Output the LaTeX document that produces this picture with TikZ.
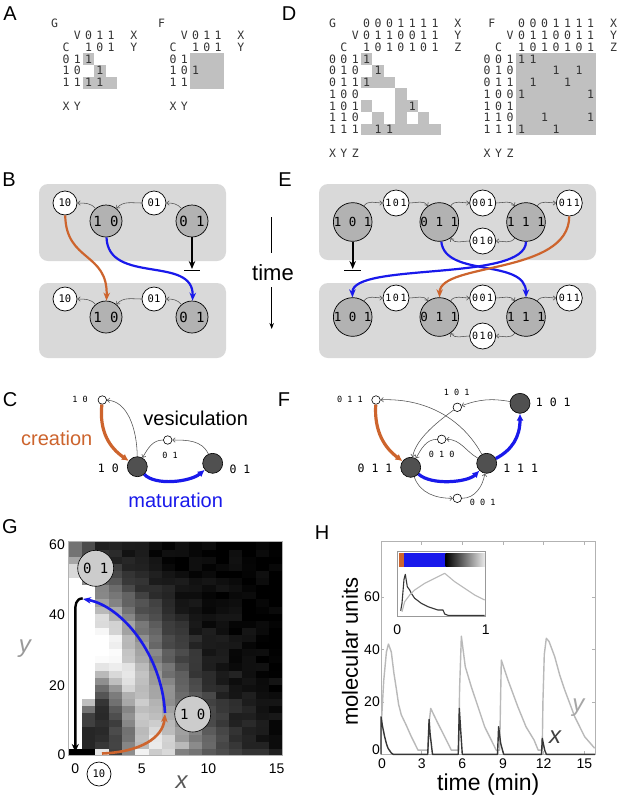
\documentclass[tikz,border=0pt]{standalone}
\usepackage{fontspec}
\setmainfont{Liberation Sans}
\newfontfamily\monof{DejaVu Sans Mono}
\usetikzlibrary{arrows.meta}
\definecolor{orng}{RGB}{205,100,45}
\definecolor{blu}{RGB}{25,25,235}
\definecolor{boxg}{RGB}{217,217,217}
\definecolor{cellg}{RGB}{192,192,192}
\definecolor{nodeg}{RGB}{178,178,178}
\definecolor{darkn}{RGB}{80,80,80}
\definecolor{thinc}{RGB}{80,80,80}
\definecolor{ycur}{RGB}{185,185,185}
\definecolor{xcur}{RGB}{55,55,55}
\newcommand\mrow[4]{\foreach \qq [count=\qk from 0] in {#4} {\node[mt] (#1-\qk) at ({#2+\qk},#3) {\qq};}}
\newcommand\cel[2]{\fill[cellg] ({#1-0.5},{#2-0.5}) rectangle ({#1+0.5},{#2+0.5});}
\newcommand\one[3]{\node[mt] (#1) at (#2,#3) {1};}
\begin{document}
\begin{tikzpicture}[x=1pt,y=-1pt,
  lab/.style={inner sep=0pt, font=\fontsize{20}{20}\selectfont},
  mt/.style={inner sep=0pt, text=black!80, font=\monof\fontsize{11.5}{12}\selectfont},
  bigB/.style={circle, draw=black, line width=0.7pt, fill=nodeg, minimum size=32pt, inner sep=0pt, font=\monof\fontsize{14}{14}\selectfont},
  smallB/.style={circle, draw=black, line width=0.7pt, fill=white, minimum size=24pt, inner sep=0pt, font=\monof\fontsize{10.5}{11}\selectfont},
  bigE/.style={bigB, minimum size=38pt, font=\monof\fontsize{12.5}{13}\selectfont},
  smallE/.style={smallB, minimum size=26pt, font=\monof\fontsize{10}{10}\selectfont},
  tarr/.style={draw=thinc, line width=0.55pt, -{Straight Barb[length=2.5pt,width=4.5pt]}},
  orarr/.style={draw=orng, line width=2.2pt, -{Stealth[length=8pt,width=6.5pt,inset=2.5pt]}},
  blarr/.style={orarr, draw=blu},
  tbarr/.style={draw=black, line width=2pt, -{Stealth[length=8pt,width=6.5pt]}},
  barl/.style={draw=black, line width=1.8pt},
  dk/.style={circle, draw=black, line width=0.6pt, fill=darkn, minimum size=20pt, inner sep=0pt},
  sm/.style={circle, draw=black, line width=0.6pt, fill=white, minimum size=8.5pt, inner sep=0pt},
  cl/.style={inner sep=0pt, font=\monof\fontsize{11.5}{12}\selectfont},
  csl/.style={inner sep=0pt, font=\monof\fontsize{8.5}{9}\selectfont},
  bigt/.style={inner sep=0pt, font=\fontsize{20}{22}\selectfont},
  orthick/.style={draw=orng, line width=3.2pt, -{Latex[length=7pt,width=7pt]}},
  blthick/.style={orthick, draw=blu},
  tick/.style={inner sep=0pt, font=\fontsize{14}{14}\selectfont},
  gcirc/.style={circle, draw=black, line width=0.6pt, fill=black!20, minimum size=36pt, inner sep=0pt, font=\monof\fontsize{14}{14}\selectfont},
  frm/.style={draw=black!30, line width=0.6pt}
]
\useasboundingbox (0,0) rectangle (617,804);
\fill[white] (0,0) rectangle (617,804);

% ---------- panel labels
\node[lab] (LA) at (10,14) {A};
\node[lab] (LD) at (289,14) {D};
\node[lab] (LB) at (9,180) {B};
\node[lab] (LE) at (285,180) {E};
\node[lab] (LC) at (10,400) {C};
\node[lab] (LF) at (284,400) {F};
\node[lab] (LG) at (10,527) {G};
\node[lab] (LH) at (322,533) {H};

% ---------- A, G matrix
\begin{scope}[shift={(66,59)}, x=11.3pt, y=-11.8pt]
\cel{2}{0}\cel{3}{1}\cel{2}{2}\cel{3}{2}\cel{4}{2}
\node[mt] (agT) at (-1,-3) {G};
\mrow{agh1}{1}{-2}{V,0,1,1}
\node[mt] (agX) at (6,-2) {X};
\node[mt] (agC) at (0,-1) {C};
\mrow{agh2}{2}{-1}{1,0,1}
\node[mt] (agY) at (6,-1) {Y};
\mrow{agr0}{0}{0}{0,1}
\mrow{agr1}{0}{1}{1,0}
\mrow{agr2}{0}{2}{1,1}
\one{ag1}{2}{0}\one{ag2}{3}{1}\one{ag3}{2}{2}\one{ag4}{3}{2}
\mrow{agb}{0}{4}{X,Y}
\end{scope}
% ---------- A, F matrix
\begin{scope}[shift={(173,59)}, x=11.3pt, y=-11.8pt]
\fill[cellg] (1.5,-0.5) rectangle (4.5,2.5);
\node[mt] (afT) at (-1,-3) {F};
\mrow{afh1}{1}{-2}{V,0,1,1}
\node[mt] (afX) at (6,-2) {X};
\node[mt] (afC) at (0,-1) {C};
\mrow{afh2}{2}{-1}{1,0,1}
\node[mt] (afY) at (6,-1) {Y};
\mrow{afr0}{0}{0}{0,1}
\mrow{afr1}{0}{1}{1,0}
\mrow{afr2}{0}{2}{1,1}
\one{af1}{2}{1}
\mrow{afb}{0}{4}{X,Y}
\end{scope}
% ---------- D, G matrix
\begin{scope}[shift={(332.5,59)}, x=11.4pt, y=-11.75pt]
\cel{3}{0}\cel{4}{1}\cel{3}{2}\cel{4}{2}\cel{5}{2}\cel{6}{3}
\cel{3}{4}\cel{6}{4}\cel{7}{4}\cel{4}{5}\cel{6}{5}\cel{8}{5}
\fill[cellg] (2.5,5.5) rectangle (9.5,6.5);
\node[mt] (dgT) at (0,-3) {G};
\mrow{dgh1}{3}{-3}{0,0,0,1,1,1,1}
\node[mt] (dgX) at (11,-3) {X};
\node[mt] (dgV) at (2,-2) {V};
\mrow{dgh2}{3}{-2}{0,1,1,0,0,1,1}
\node[mt] (dgY) at (11,-2) {Y};
\node[mt] (dgC) at (1,-1) {C};
\mrow{dgh3}{3}{-1}{1,0,1,0,1,0,1}
\node[mt] (dgZ) at (11,-1) {Z};
\mrow{dgr0}{0}{0}{0,0,1}
\mrow{dgr1}{0}{1}{0,1,0}
\mrow{dgr2}{0}{2}{0,1,1}
\mrow{dgr3}{0}{3}{1,0,0}
\mrow{dgr4}{0}{4}{1,0,1}
\mrow{dgr5}{0}{5}{1,1,0}
\mrow{dgr6}{0}{6}{1,1,1}
\one{dg1}{3}{0}\one{dg2}{4}{1}\one{dg3}{3}{2}\one{dg4}{7}{4}\one{dg5}{4}{6}\one{dg6}{5}{6}
\mrow{dgb}{0}{8}{X,Y,Z}
\end{scope}
% ---------- D, F matrix
\begin{scope}[shift={(487.2,59)}, x=11.5pt, y=-11.75pt]
\fill[cellg] (2.5,-0.5) rectangle (9.5,6.5);
\node[mt] (dfT) at (0.4,-3) {F};
\mrow{dfh1}{3}{-3}{0,0,0,1,1,1,1}
\node[mt] (dfX) at (11,-3) {X};
\node[mt] (dfV) at (2,-2) {V};
\mrow{dfh2}{3}{-2}{0,1,1,0,0,1,1}
\node[mt] (dfY) at (11,-2) {Y};
\node[mt] (dfC) at (1,-1) {C};
\mrow{dfh3}{3}{-1}{1,0,1,0,1,0,1}
\node[mt] (dfZ) at (11,-1) {Z};
\mrow{dfr0}{0}{0}{0,0,1}
\mrow{dfr1}{0}{1}{0,1,0}
\mrow{dfr2}{0}{2}{0,1,1}
\mrow{dfr3}{0}{3}{1,0,0}
\mrow{dfr4}{0}{4}{1,0,1}
\mrow{dfr5}{0}{5}{1,1,0}
\mrow{dfr6}{0}{6}{1,1,1}
\one{df1}{3}{0}\one{df2}{4}{0}\one{df3}{6}{1}\one{df4}{8}{1}
\one{df5}{4}{2}\one{df6}{7}{2}\one{df7}{3}{3}\one{df8}{9}{3}
\one{df9}{5}{5}\one{df10}{9}{5}\one{df11}{3}{6}\one{df12}{6}{6}
\mrow{dfb}{0}{8}{X,Y,Z}
\end{scope}

% ---------- B
\fill[boxg, rounded corners=9pt] (39,184) rectangle (226,261);
\fill[boxg, rounded corners=9pt] (39,283) rectangle (226,358);
\node[smallB] (bs10a) at (65,203) {10};
\node[bigB] (bb10a) at (106,221) {1 0};
\node[smallB] (bs01a) at (154,203) {01};
\node[bigB] (bb01a) at (192,221) {0 1};
\node[smallB] (bs10b) at (65,299) {10};
\node[bigB] (bb10b) at (106,317) {1 0};
\node[smallB] (bs01b) at (154,299) {01};
\node[bigB] (bb01b) at (192,317) {0 1};
\foreach \r in {a,b}{
  \draw[tarr] (bb01\r) to[out=130,in=0] (bs01\r);
  \draw[tarr] (bs01\r) to[out=180,in=50] (bb10\r);
  \draw[tarr] (bb10\r) to[out=130,in=0] (bs10\r);
}
\coordinate (btb) at (192,269);
\coordinate (btl) at (184,270.5);
\coordinate (btr) at (200,270.5);
\draw[tbarr] (bb01a) -- (btb);
\draw[barl] (btl) -- (btr);
\draw[orarr] (bs10a) .. controls (66,262) and (108,252) .. (bb10b);
\draw[blarr] (bb10a) .. controls (108,285) and (194,255) .. (bb01b);

% ---------- E
\fill[boxg, rounded corners=9pt] (319,184) rectangle (596,260);
\fill[boxg, rounded corners=9pt] (319,283) rectangle (596,358);
\foreach \r/\dy in {a/0,b/95}{
  \node[bigE] (eb101\r) at (352.7,222+\dy) {1 0 1};
  \node[smallE] (es101\r) at (396,203+\dy) {1\kern1.5pt0\kern1.5pt1};
  \node[bigE] (eb011\r) at (439.3,222+\dy) {0 1 1};
  \node[smallE] (es001\r) at (482.7,203+\dy) {0\kern1.5pt0\kern1.5pt1};
  \node[bigE] (eb111\r) at (526,222+\dy) {1 1 1};
  \node[smallE] (es011\r) at (569.3,203+\dy) {0\kern1.5pt1\kern1.5pt1};
  \node[smallE] (es010\r) at (482.7,241+\dy) {0\kern1.5pt1\kern1.5pt0};
  \draw[tarr] (eb101\r) to[out=55,in=180] (es101\r);
  \draw[tarr] (es101\r) to[out=0,in=125] (eb011\r);
  \draw[tarr] (eb011\r) to[out=55,in=180] (es001\r);
  \draw[tarr] (es001\r) to[out=0,in=125] (eb111\r);
  \draw[tarr] (eb111\r) to[out=55,in=180] (es011\r);
  \draw[tarr] (eb111\r) to[out=-125,in=0] (es010\r);
  \draw[tarr] (es010\r) to[out=180,in=-55] (eb011\r);
}
\coordinate (etb) at (352.7,269);
\coordinate (etl) at (344,270.5);
\coordinate (etr) at (361,270.5);
\draw[tbarr] (eb101a) -- (etb);
\draw[barl] (etl) -- (etr);
\draw[blarr] (eb011a) .. controls (445,278) and (526,258) .. (eb111b);
\draw[blarr] (eb111a) .. controls (526,282) and (352,262) .. (eb101b);
\draw[orarr] (es011a) .. controls (569,275) and (440,262) .. (eb011b);
% time
\node[inner sep=0pt, font=\fontsize{22}{22}\selectfont] (time) at (273,273) {time};
\coordinate (tl1) at (271.7,217);
\coordinate (tl2) at (271.7,253);
\coordinate (ta1) at (271.7,287);
\coordinate (ta2) at (271.7,329);
\draw[line width=0.8pt] (tl1) -- (tl2);
\draw[line width=0.8pt, -{Stealth[length=6pt,width=4.5pt]}] (ta1) -- (ta2);

% ---------- C
\node[sm] (cs10) at (102.3,400) {};
\node[csl] (cs10l) at (80,399) {1 0};
\node[sm] (cs01) at (167.7,440) {};
\node[csl] (cs01l) at (170,455) {0 1};
\node[dk] (cb10) at (137.3,466.7) {};
\node[cl] (cb10l) at (108.3,468) {1 0};
\node[dk] (cb01) at (212.7,463.3) {};
\node[cl] (cb01l) at (240,469) {0 1};
\node[bigt] (vesic) at (195.7,418.3) {vesiculation};
\node[bigt, text=orng] (creat) at (56.7,438.3) {creation};
\node[bigt, text=blu] (matur) at (175.7,500) {maturation};
\draw[tarr] (cb10) .. controls (137,428) and (127,401) .. (cs10);
\draw[tarr] (cb01) to[out=115,in=0] (cs01);
\draw[tarr] (cs01) to[out=180,in=60] (cb10);
\draw[orthick] (cs10) .. controls (99,432) and (110,448) .. (cb10);
\draw[blthick] (cb10) .. controls (155,486) and (190,482) .. (cb01);

% ---------- F
\node[sm] (fs011) at (376,400) {};
\node[csl] (fs011l) at (350,399) {0 1 1};
\node[sm] (fs101) at (457.3,407.3) {};
\node[csl] (fs101l) at (456.7,392.3) {1 0 1};
\node[dk] (fb101) at (520,403.3) {};
\node[cl] (fb101l) at (553.3,402.7) {1 0 1};
\node[sm] (fs010) at (441.7,439.3) {};
\node[csl] (fs010l) at (441.7,454) {0 1 0};
\node[dk] (fb011) at (410.7,467.3) {};
\node[cl] (fb011l) at (375,468.3) {0 1 1};
\node[dk] (fb111) at (486.7,463.3) {};
\node[cl] (fb111l) at (520.7,468.3) {1 1 1};
\node[sm] (fs001) at (457.3,498.3) {};
\node[csl] (fs001l) at (482.7,502.7) {0 0 1};
\draw[tarr] (fb101) to[out=170,in=20] (fs101);
\draw[tarr] (fs101) .. controls (440,420) and (416,438) .. (fb011);
\draw[tarr] (fb111) .. controls (462,418) and (425,398) .. (fs011);
\draw[tarr] (fb111) to[out=150,in=0] (fs010);
\draw[tarr] (fs010) to[out=180,in=60] (fb011);
\draw[tarr] (fb011) to[out=-70,in=180] (fs001);
\draw[tarr] (fs001) to[out=0,in=-100] (fb111);
\draw[orthick] (fs011) .. controls (374,432) and (385,448) .. (fb011);
\draw[blthick] (fb011) .. controls (432,486) and (468,482) .. (fb111);
\draw[blthick] (fb111) .. controls (512,450) and (520,437) .. (fb101);

% ---------- G heat map
\begin{scope}[shift={(75.3,755)}, x=13.375pt, y=3.555pt]
\pgfmathsetseed{11}
\foreach \i in {0,...,15}{
 \foreach \j in {0,...,29}{
  \pgfmathsetmacro\yc{2*\j+1}
  \pgfmathsetmacro\rr{sqrt((\i/9)*(\i/9)+(\yc/44)*(\yc/44))}
  \pgfmathsetmacro\dd{\rr-0.7}
  \pgfmathsetmacro\rid{\dd<0 ? exp(-min(9,(\dd/0.2)*(\dd/0.2))) : exp(-min(9,(\dd/0.45)*(\dd/0.45)))}
  \pgfmathsetmacro\amp{min(1,exp(-(\i-2.5)/5))}
  \pgfmathsetmacro\bgv{0.5*exp(-\yc/20)*exp(-((\i-7)/6)*((\i-7)/6))}
  \pgfmathsetmacro\v{\rid*\amp+\bgv+0.1*(rnd-0.5)}
  \ifnum\i=0 \pgfmathsetmacro\v{\yc<50 ? 1 : (\yc<54 ? 0.85 : (\yc<57 ? 0.65 : 0.45))}\fi
  \ifnum\i=1 \pgfmathsetmacro\v{\yc<8 ? 0.15 : (\yc<12 ? 0.25 : (\yc<15 ? 0.45 : (\yc<17 ? 0.75 : (\yc<48 ? 1 : (\yc<52 ? 0.55 : 0.3)))))}\fi
  \ifnum\j=0 \pgfmathsetmacro\v{{0,0,0.9,0.25,0.55,0.95,0.8,0.85,0.5,0.45,0.35,0.3,0.25,0.2,0.2,0.12}[\i]}\fi
  \pgfmathsetmacro\pc{max(0,min(100,100*\v))}
  \filldraw[white!\pc!black, line width=0.3pt] (\i-0.5,2*\j) rectangle (\i+0.5,2*\j+2);
 }
}
\draw[frm] (-0.5,0) rectangle (15.5,60);
\end{scope}
\node[tick, anchor=east] (g60) at (65,545) {60};
\node[tick, anchor=east] (g40) at (65,615) {40};
\node[tick, anchor=east] (g20) at (65,685.5) {20};
\node[tick, anchor=east] (g0) at (65.5,755) {0};
\node[tick] (gx0) at (75.3,768.3) {0};
\node[tick] (gx5) at (141.7,768.3) {5};
\node[tick] (gx10) at (208.3,768.3) {10};
\node[tick] (gx15) at (276.7,768.3) {15};
\node[inner sep=0pt, text=black!40, font=\itshape\fontsize{24}{24}\selectfont] (gylab) at (25,649) {y};
\node[inner sep=0pt, text=black!65, font=\itshape\fontsize{24}{24}\selectfont] (gxlab) at (181.7,782) {x};
\coordinate (gk1) at (82.7,598.3);
\coordinate (gk2) at (75.3,752);
\draw[draw=black, line width=2.4pt, -{Stealth[length=8pt,width=7pt]}] (gk1) .. controls (75.3,599) and (75.3,605) .. (75.3,612) -- (gk2);
\coordinate (gb1) at (165,713);
\coordinate (gb2) at (83,599);
\draw[blarr, line width=2.6pt] (gb1) .. controls (162,655) and (122,606) .. (gb2);
\coordinate (go1) at (102,753.5);
\coordinate (go2) at (165,714);
\draw[orarr, line width=2.6pt] (go1) .. controls (140,752) and (163,738) .. (go2);
\node[gcirc] (g01) at (95.7,568.3) {0 1};
\node[gcirc] (g10) at (192.7,714) {1 0};
\node[smallB] (g10s) at (99,774) {10};

% ---------- H
\begin{scope}[shift={(381,754.3)}, x=13.55pt, y=2.625pt]
\draw[frm] (0,0) rectangle (15.79,81);
\foreach \t in {0,3,...,15}{
  \draw[frm] (\t,0) -- (\t,1.3);
  \draw[frm] (\t,81) -- (\t,79.7);
}
\foreach \u in {20,40,60}{
  \draw[frm] (0,\u) -- (0.25,\u);
  \draw[frm] (15.79,\u) -- (15.54,\u);
}
\draw[draw=ycur, line width=1.4pt, line join=round] plot coordinates {
 (0,2) (0.05,14) (0.2,28) (0.4,39) (0.55,42) (0.76,39) (0.95,31) (1.13,25) (1.3,19) (1.5,15)
 (1.87,11) (2.24,6.7) (2.5,4) (2.73,1.6) (3.47,1.6) (3.55,12) (3.67,17.5) (3.9,15) (4.2,11.8)
 (4.7,6.7) (5.19,1.6) (5.73,1.6) (5.8,25) (5.93,45) (6.22,33.4) (6.66,25.8) (7.16,18.1)
 (7.65,10.5) (8.14,5.4) (8.5,1.6) (8.76,1.6) (8.82,20) (8.88,35.9) (9.37,28.3) (10.1,18.1)
 (10.7,10.5) (11.3,5.4) (11.6,1.6) (11.9,1.6) (11.95,20) (12.05,38) (12.2,44.2) (12.4,43)
 (12.82,37.2) (13.2,30) (13.56,24.5) (14.3,14.3) (15.03,6.7) (15.77,2.3)};
\draw[draw=xcur, line width=1.4pt, line join=round] plot coordinates {
 (0,0) (0,14.3) (0.1,11) (0.27,6.7) (0.4,4) (0.52,2.3) (0.76,0.5) (0.9,0) (3.45,0) (3.55,13.3)
 (3.62,8) (3.8,0) (5.7,0) (5.78,17.5) (5.87,10) (6.0,0) (8.6,0) (8.68,10.5) (8.83,4.2) (9.05,0)
 (11.85,0) (11.9,6.1) (12.08,1.6) (12.2,0) (15.79,0)};
\end{scope}
\node[tick] (hx0) at (382,763.3) {0};
\node[tick] (hx3) at (421.7,763.3) {3};
\node[tick] (hx6) at (462.3,763.3) {6};
\node[tick] (hx9) at (503,763.3) {9};
\node[tick] (hx12) at (543.6,763.3) {12};
\node[tick] (hx15) at (584.3,763.3) {15};
\node[tick, anchor=east] (hy0) at (380,750) {0};
\node[tick, anchor=east] (hy20) at (380,701.7) {20};
\node[tick, anchor=east] (hy40) at (380,650) {40};
\node[tick, anchor=east] (hy60) at (380,596.7) {60};
\node[inner sep=0pt, rotate=90, font=\fontsize{22}{22}\selectfont] (hylab) at (350,651.7) {molecular units};
\node[inner sep=0pt, font=\fontsize{23}{23}\selectfont] (hxlab) at (488.3,785) {time (min)};
\node[inner sep=0pt, text=black!35, font=\itshape\fontsize{24}{24}\selectfont] (hyv) at (578.3,708) {y};
\node[inner sep=0pt, text=black!75, font=\itshape\fontsize{24}{24}\selectfont] (hxv) at (555,737) {x};
% inset
\fill[white] (397.3,551.7) rectangle (485.7,616.7);
\fill[orng] (399,553.3) rectangle (404,566.7);
\fill[blu] (404,553.3) rectangle (445.7,566.7);
\shade[left color=black, right color=white!92!black] (445.7,553.3) rectangle (485,566.7);
\draw[draw=xcur, line width=1.1pt, line join=round] plot coordinates {
 (400.7,610.7) (402,603.3) (404,579.3) (405.3,574.3) (407.3,586.7) (409.7,590) (411.3,593.3)
 (414.7,598.3) (421.3,603.3) (428,606.7) (438,610) (443,610) (444.7,614) (448,615.3) (484.7,615.3)};
\draw[draw=ycur, line width=1.1pt, line join=round] plot coordinates {
 (402,611.7) (404.7,601.7) (409.7,595) (414.7,590) (424.7,583.3) (434.7,578.3) (444.7,573.3)
 (454.7,581.7) (464.7,588.3) (474.7,595) (484.7,600)};
\draw[frm, draw=black!40] (397.3,551.7) rectangle (485.7,616.7);
\node[tick] (hi0) at (397.3,630) {0};
\node[tick] (hi1) at (485.7,630) {1};
\end{tikzpicture}
\end{document}
